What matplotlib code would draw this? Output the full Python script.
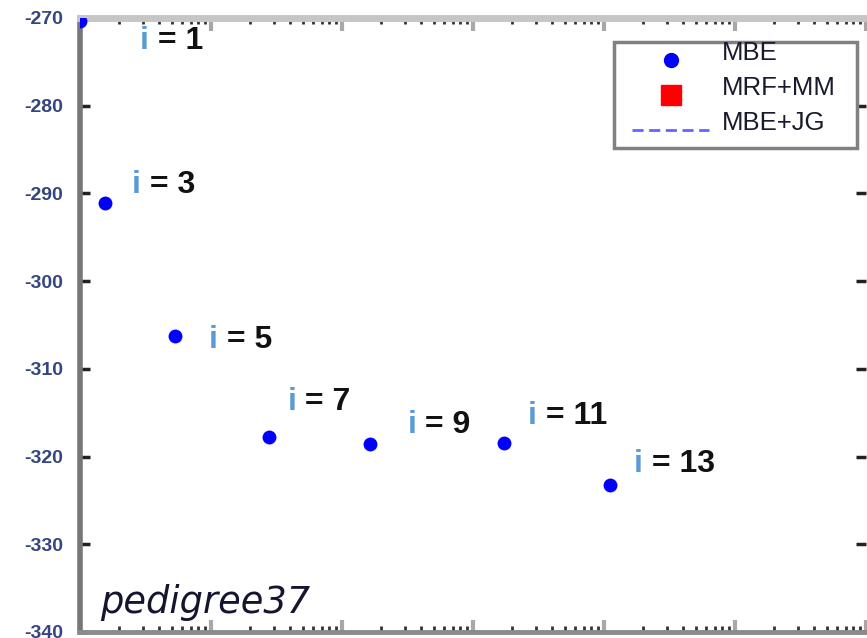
import matplotlib
matplotlib.use("Agg")
import matplotlib.pyplot as plt
from matplotlib.lines import Line2D
from matplotlib.patches import Rectangle
from matplotlib.ticker import LogLocator, NullFormatter

# i-bound values, runtime (log x) and bound value for each run
ibounds = [1, 3, 5, 7, 9, 11, 13]
mbe_x = [1.0, 1.55, 5.3, 27.9, 165, 1720, 11150]
mbe_y = [-270.3, -291.1, -306.3, -317.8, -318.6, -318.5, -323.2]

y_ticks = [-270, -280, -290, -300, -310, -320, -330, -340]
y_tick_labels = ["-270", "-280", "-290", "-300", "-310", "-320", "-330", "-340"]

legend_labels = ["MBE", "MRF+MM", "MBE+JG"]
instance_name = "pedigree37"

# label offsets (pixels, right/up) from each point to the label baseline start
label_offsets = [(60, -28), (27, 10), (34, -12), (18, 27), (37, 11), (24, 19), (24, 13)]

W, H = 867, 638
fig = plt.figure(figsize=(W / 100, H / 100), dpi=100)
ax = fig.add_axes([80 / W, 6 / H, 786 / W, 614 / H])

ax.set_xscale("log")
ax.set_xlim(1, 1e6)
ax.set_ylim(-340, -270)

ax.scatter(mbe_x, mbe_y, s=100, color="#0000ff", zorder=3, linewidths=0)

label_font = "Liberation Sans"
for b, x, y, (dx, dy) in zip(ibounds, mbe_x, mbe_y, label_offsets):
    t = ax.annotate("i", xy=(x, y), xytext=(dx, dy), textcoords="offset pixels",
                    ha="left", va="baseline", fontsize=23, fontweight="bold",
                    family=label_font, color="#5b9bd5", annotation_clip=False)
    ax.annotate(f" = {b}", xy=(1, 0), xycoords=t, ha="left", va="bottom",
                fontsize=23, fontweight="bold", family=label_font,
                color="#111111", annotation_clip=False)

ax.text(100 / W, 1 - 613 / H, instance_name, transform=fig.transFigure,
        ha="left", va="baseline", fontsize=26.5, style="italic",
        family="DejaVu Sans", color="#151530")

# axes frame
ax.spines["right"].set_visible(False)
ax.spines["left"].set_color("#777777")
ax.spines["left"].set_linewidth(4)
ax.spines["top"].set_color("#c6c6c6")
ax.spines["top"].set_linewidth(5)
ax.spines["bottom"].set_color("#8a8a8a")
ax.spines["bottom"].set_linewidth(3.5)

ax.xaxis.set_major_locator(LogLocator(base=10, numticks=20))
ax.xaxis.set_minor_locator(LogLocator(base=10, subs=range(2, 10), numticks=100))
ax.xaxis.set_minor_formatter(NullFormatter())
ax.tick_params(axis="x", which="major", direction="in", length=9, width=3,
               color="#a8a8a8", top=True, bottom=True, labelbottom=False)
ax.tick_params(axis="x", which="minor", direction="in", length=4, width=2,
               color="#333333", top=True, bottom=True)

ax.set_yticks(y_ticks)
ax.set_yticklabels(y_tick_labels, fontsize=14, fontweight="bold",
                   family="Liberation Sans", color="#34457f")
ax.tick_params(axis="y", which="major", direction="in", length=7, width=2.5,
               color="#222222", left=True, right=True, pad=12)

# legend: frame drawn as a box, entries placed inside it
ax.add_patch(Rectangle((614 / W, 1 - 148 / H), 243 / W, 106 / H,
                       transform=fig.transFigure, facecolor="white",
                       edgecolor="#808080", linewidth=2.5, zorder=4.5,
                       clip_on=False))
handles = [
    Line2D([], [], marker="o", ls="none", color="#0000ff", markersize=10),
    Line2D([], [], marker="s", ls="none", color="#ff0000", markersize=14),
    Line2D([], [], ls=(0, (4, 2)), color="#6464ff", lw=2),
]
leg = ax.legend(handles, legend_labels, loc="upper left",
                bbox_to_anchor=(632 / W, 1 - 50 / H), bbox_transform=fig.transFigure,
                borderaxespad=0, prop={"family": "Liberation Sans", "size": 18.5},
                handlelength=3.0, handletextpad=0.5, labelspacing=0.42,
                borderpad=0, frameon=False)
for txt in leg.get_texts():
    txt.set_color("#1a1a2e")
    txt.set_y(9)

fig.savefig("out.png", dpi=100)
